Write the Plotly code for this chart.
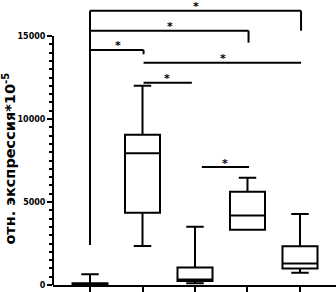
import plotly.graph_objects as go

# ---- data ----
groups = [0, 1, 2, 3, 4]
q_min = [0, 2350, 100, 3330, 740]
q1 = [10, 4350, 240, 3330, 1000]
median = [50, 7930, 330, 4180, 1300]
q3 = [100, 9050, 1050, 5620, 2330]
q_max = [650, 12000, 3510, 6460, 4280]

y_major = [0, 5000, 10000, 15000]
y_major_labels = ["0", "5000", "10000", "15000"]
y_minor = [v for v in range(500, 15000, 500) if v % 5000 != 0]

# significance brackets: start group, end group, bar level, right-leg end, label position
br_x0 = [0.0, 0.0, 0.0, 1.02, 1.02, 2.13]
br_x1 = [4.02, 3.02, 1.02, 4.02, 1.94, 3.03]
br_y = [16520, 15320, 14160, 13390, 12190, 7110]
br_leg = [15320, 14600, 13900, None, None, None]
lab_x = [2.02, 1.52, 0.53, 2.53, 1.47, 2.58]
lab_y = [16930, 15780, 14600, 13810, 12610, 7530]
lab_text = ["*", "*", "*", "*", "*", "*"]
left_leg_bottom = 2410

fig = go.Figure()
fig.add_trace(go.Box(
    x=groups, q1=q1, median=median, q3=q3,
    lowerfence=q_min, upperfence=q_max,
    width=0.667, whiskerwidth=0.5,
    line=dict(color="black", width=2),
    fillcolor="white", boxpoints=False, hoverinfo="skip",
))

shapes = []
# y axis line (only up to 15000)
shapes.append(dict(type="line", xref="paper", yref="y", x0=0, x1=0, y0=0, y1=15000,
                   line=dict(color="black", width=2)))
for i in range(len(br_x0)):
    shapes.append(dict(type="line", xref="x", yref="y", x0=br_x0[i], x1=br_x1[i],
                       y0=br_y[i], y1=br_y[i], line=dict(color="black", width=2)))
    if br_leg[i] is not None:
        shapes.append(dict(type="line", xref="x", yref="y", x0=br_x1[i], x1=br_x1[i],
                           y0=br_y[i], y1=br_leg[i], line=dict(color="black", width=2)))
shapes.append(dict(type="line", xref="x", yref="y", x0=0, x1=0,
                   y0=max(br_y), y1=left_leg_bottom, line=dict(color="black", width=2)))

annotations = []
for i in range(len(lab_x)):
    annotations.append(dict(x=lab_x[i], y=lab_y[i], xref="x", yref="y",
                            text="<b>" + lab_text[i] + "</b>",
                            showarrow=False, xanchor="center", yanchor="middle", yshift=-3,
                            font=dict(family="DejaVu Sans", size=11, color="black")))
annotations.append(dict(x=-0.157, y=0.442, xref="paper", yref="paper",
                        text="<b>отн. экспрессия*10<sup>-5</sup></b>", textangle=-90,
                        showarrow=False, xanchor="center", yanchor="middle",
                        font=dict(family="DejaVu Sans", size=14.5, color="black")))

fig.update_layout(
    width=336, height=292,
    margin=dict(l=53, r=0, t=0, b=7),
    plot_bgcolor="white", paper_bgcolor="white",
    showlegend=False,
    shapes=shapes, annotations=annotations,
    xaxis=dict(range=[-0.705, 4.686], showline=True, linecolor="black", linewidth=2,
               tickmode="array", tickvals=groups, showticklabels=False,
               ticks="outside", ticklen=7, tickwidth=2, tickcolor="black",
               showgrid=False, zeroline=False, fixedrange=True),
    yaxis=dict(range=[0, 17169], showline=False, tickmode="array", tickvals=y_major,
               ticktext=y_major_labels, ticks="outside", ticklen=5, tickwidth=2,
               tickcolor="black", showgrid=False, zeroline=False,
               tickfont=dict(family="DejaVu Sans", size=8, color="black", weight="bold"),
               minor=dict(tickmode="array", tickvals=y_minor, ticks="outside", ticklen=3,
                          tickwidth=2, tickcolor="black", showgrid=False)),
)
fig.write_html("out.html", config={"displayModeBar": False},
               post_script="document.body.style.margin='0';")
